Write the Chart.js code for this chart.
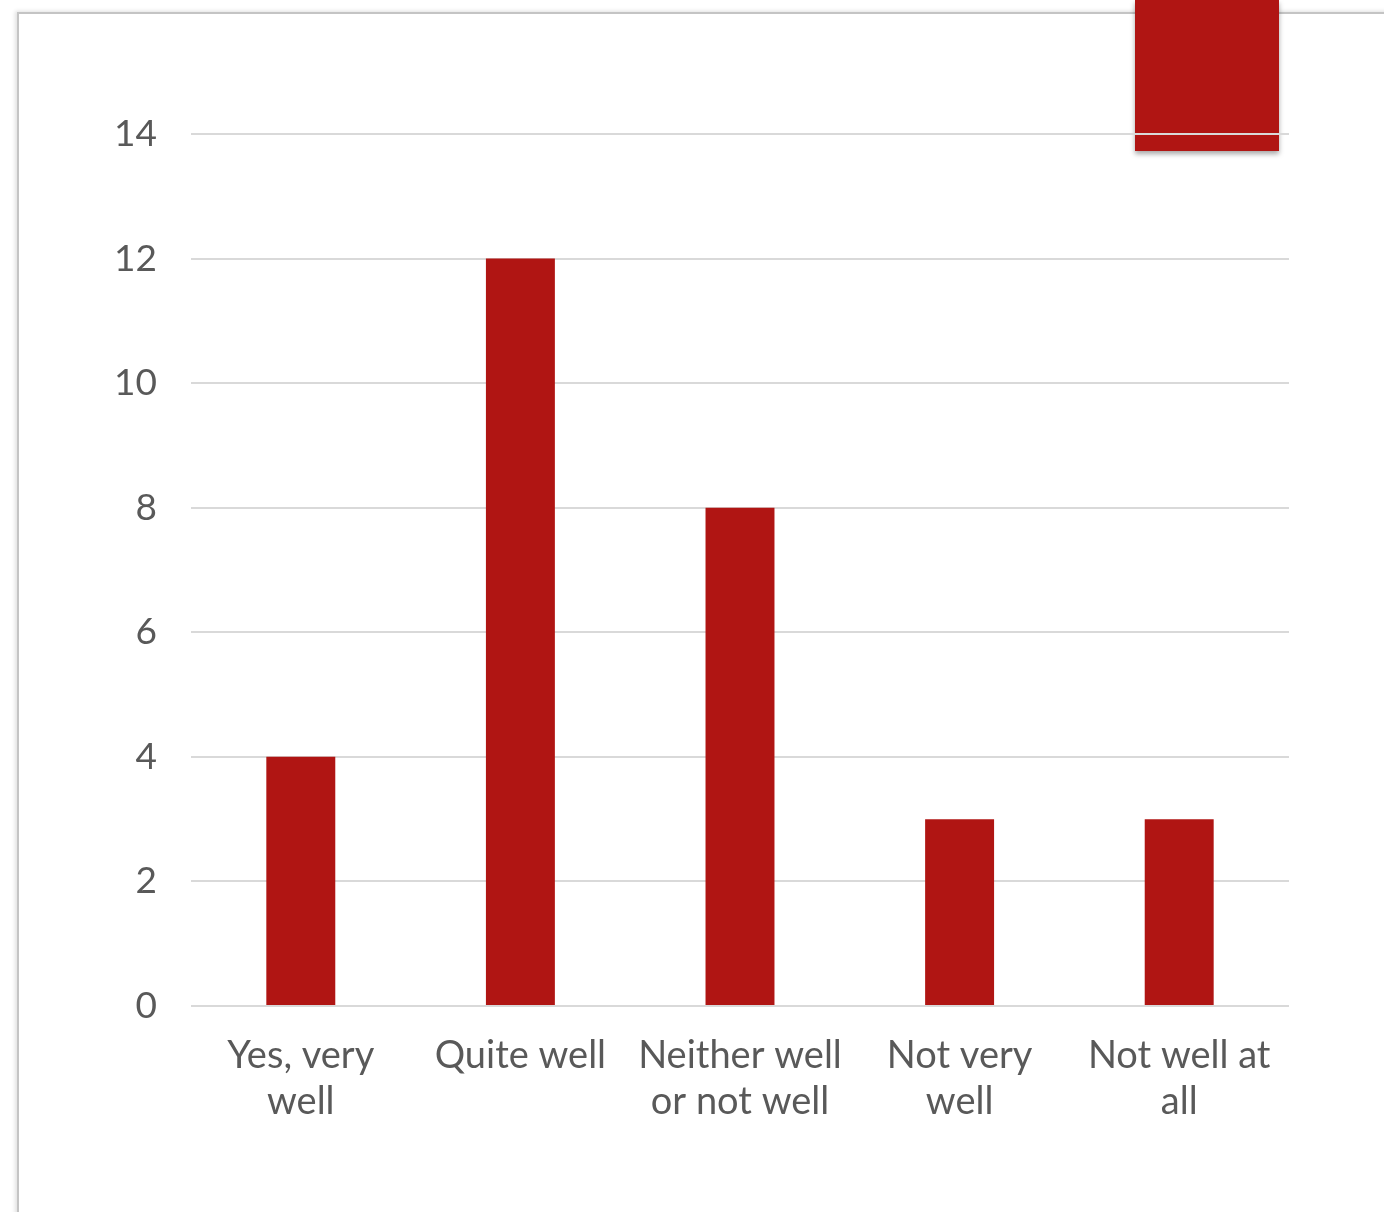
<!DOCTYPE html>
<html>
<head>
<meta charset="utf-8">
<script src="https://cdn.jsdelivr.net/npm/chart.js@4"></script>
<style>
  html, body { margin: 0; padding: 0; background: #fff; }
  #wrap { position: relative; width: 1384px; height: 1212px; overflow: hidden; }
  #frame {
    position: absolute; left: 17px; top: 12px; width: 1500px; height: 1400px;
    border-left: 2px solid #c4c4c4; border-top: 2px solid #c4c4c4;
    box-shadow: -2px -1px 4px rgba(0,0,0,0.12);
  }
  #tag {
    position: absolute; left: 1135px; top: 0; width: 144px; height: 151px;
    background: #b01513; box-shadow: 0 3px 5px rgba(0,0,0,0.35);
  }
  #box { position: absolute; left: 0; top: 0; width: 1384px; height: 1212px; }
</style>
</head>
<body>
<div id="wrap">
  <div id="frame"></div>
  <div id="tag"></div>
  <div id="box"><canvas id="chart"></canvas></div>
</div>
<script>
var categories = [['Yes, very', 'well'], 'Quite well', ['Neither well', 'or not well'], ['Not very', 'well'], ['Not well at', 'all']];
var counts = [4, 12, 8, 3, 3];
var yTicks = [0, 2, 4, 6, 8, 10, 12, 14];

var ctx = document.getElementById('chart').getContext('2d');
new Chart(ctx, {
    type: 'bar',
    data: {
        labels: categories,
        datasets: [{
            label: 'Responses',
            data: counts,
            backgroundColor: '#b01513',
            borderWidth: 0,
            barPercentage: 0.314,
            categoryPercentage: 1
        }]
    },
    options: {
        responsive: true,
        maintainAspectRatio: false,
        animation: false,
        layout: { padding: { top: 134, left: 0, right: 95, bottom: 0 } },
        plugins: { legend: { display: false }, tooltip: { enabled: false } },
        scales: {
            x: {
                grid: { display: false, drawTicks: false },
                border: { display: false },
                ticks: {
                    color: '#595959',
                    font: { family: 'Lato', size: 38, lineHeight: 1.2 },
                    padding: 27,
                    maxRotation: 0,
                    autoSkip: false
                },
                afterFit: function(scale) { scale.height = 206; }
            },
            y: {
                min: 0,
                max: 14,
                afterBuildTicks: function(scale) {
                    scale.ticks = yTicks.map(function(v) { return { value: v }; });
                },
                grid: { color: '#d9d9d9', lineWidth: 2, drawTicks: false },
                border: { display: false },
                ticks: {
                    color: '#595959',
                    font: { family: 'Lato', size: 37 },
                    padding: 34
                },
                afterFit: function(scale) { scale.width = 191; }
            }
        }
    }
});
</script>
</body>
</html>
